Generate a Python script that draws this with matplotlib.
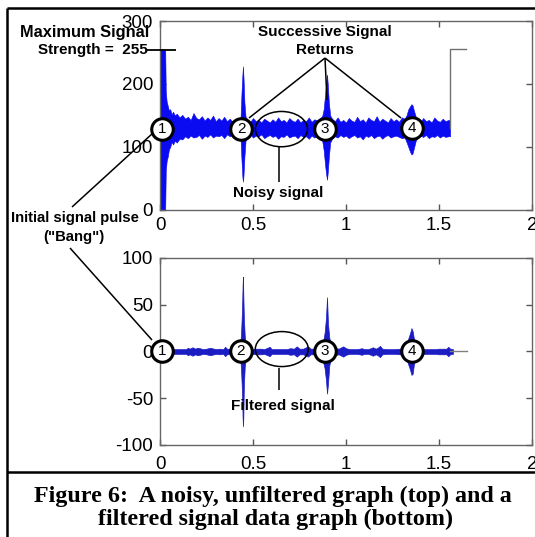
import matplotlib
matplotlib.use("Agg")
import matplotlib.pyplot as plt
from matplotlib.patches import Ellipse
from matplotlib.lines import Line2D

W, H = 535, 537

# ---- data ----
x_ticks = [0, 0.5, 1, 1.5, 2]
x_tick_labels = ["0", "0.5", "1", "1.5", "2"]
raw_yticks = [0, 100, 200, 300]
flt_yticks = [-100, -50, 0, 50, 100]

# raw (unfiltered) trace: upper / lower envelope of the noisy band
raw_t = [0.000, 0.028,
         0.031, 0.036, 0.042, 0.048, 0.055, 0.062, 0.070, 0.080, 0.090, 0.105,
         0.120, 0.135, 0.150, 0.165, 0.180, 0.195, 0.210, 0.225, 0.240, 0.255,
         0.270, 0.285, 0.300, 0.315, 0.330, 0.345, 0.360, 0.375, 0.390, 0.405,
         0.420, 0.432,
         0.438, 0.443, 0.446, 0.449, 0.454, 0.460,
         0.470, 0.485, 0.500, 0.515, 0.530, 0.545, 0.560, 0.575, 0.590, 0.605,
         0.620, 0.635, 0.650, 0.665, 0.680, 0.695, 0.710, 0.725, 0.740, 0.755,
         0.770, 0.785, 0.800, 0.815, 0.830, 0.845, 0.860, 0.872,
         0.880, 0.888, 0.894, 0.898, 0.902, 0.908, 0.915,
         0.925, 0.940, 0.955, 0.970, 0.985, 1.000, 1.015, 1.030, 1.045, 1.060,
         1.075, 1.090, 1.105, 1.120, 1.135, 1.150, 1.165, 1.180, 1.195, 1.210,
         1.225, 1.240, 1.255, 1.270, 1.285, 1.300, 1.315,
         1.325, 1.335, 1.345, 1.352, 1.358, 1.365, 1.375,
         1.385, 1.400, 1.415, 1.430, 1.445, 1.460, 1.475, 1.490, 1.505, 1.520,
         1.535, 1.550, 1.560]
raw_hi = [255, 255,
          188, 172, 165, 158, 160, 152, 156, 150, 153, 147,
          151, 145, 148, 143, 154, 146, 144, 149, 142, 147,
          143, 150, 141, 146, 142, 148, 141, 145, 140, 144,
          140, 139,
          185, 215, 228, 210, 170, 148,
          144, 140, 146, 141, 143, 139, 145, 142, 139, 144,
          140, 147, 141, 143, 139, 146, 142, 140, 145, 139,
          143, 141, 147, 140, 144, 142, 146, 149,
          160, 185, 205, 215, 200, 170, 150,
          145, 141, 147, 140, 143, 139, 146, 142, 140, 148,
          141, 144, 139, 147, 143, 141, 149, 140, 145, 142,
          139, 146, 141, 144, 140, 147, 145,
          150, 160, 165, 168, 166, 158, 148,
          144, 140, 146, 141, 143, 139, 147, 142, 140, 145,
          141, 143, 142]
raw_lo = [0, 0,
          62, 78, 85, 96, 100, 108, 104, 110, 107, 113,
          112, 117, 114, 118, 115, 116, 119, 113, 118, 116,
          120, 115, 118, 117, 119, 114, 120, 117, 119, 116,
          120, 120,
          80, 52, 45, 55, 85, 110,
          116, 120, 115, 118, 117, 120, 114, 117, 119, 116,
          118, 113, 117, 116, 120, 115, 117, 118, 114, 119,
          116, 117, 113, 118, 115, 117, 114, 110,
          95, 70, 55, 48, 60, 85, 107,
          113, 117, 115, 119, 116, 118, 114, 117, 119, 115,
          117, 112, 118, 116, 119, 114, 117, 118, 113, 117,
          119, 115, 117, 118, 116, 114, 115,
          108, 100, 92, 88, 90, 98, 110,
          115, 118, 116, 119, 114, 117, 116, 119, 115, 118,
          116, 117, 117]
raw_tail_t = [1.56, 1.56, 1.645]
raw_tail_v = [130, 255, 255]

# filtered trace: upper / lower envelope
flt_t = [0.020, 0.060, 0.100, 0.140, 0.150, 0.160, 0.175, 0.190, 0.200, 0.215,
         0.230, 0.250, 0.270, 0.290, 0.300, 0.320, 0.340, 0.350, 0.360, 0.375,
         0.395, 0.410, 0.425, 0.432,
         0.436, 0.441, 0.444, 0.446, 0.448, 0.451, 0.456, 0.462, 0.470,
         0.480, 0.500, 0.520, 0.545, 0.560, 0.590, 0.600, 0.640, 0.680, 0.700,
         0.720, 0.735, 0.750, 0.770, 0.795, 0.810, 0.840, 0.860, 0.872,
         0.878, 0.885, 0.892, 0.898, 0.903, 0.910, 0.918, 0.928,
         0.940, 0.960, 0.985, 1.000, 1.020, 1.060, 1.085, 1.100, 1.120, 1.145,
         1.160, 1.170, 1.183, 1.195, 1.220, 1.260, 1.290, 1.310, 1.325,
         1.335, 1.345, 1.352, 1.358, 1.365, 1.375,
         1.390, 1.420, 1.450, 1.480, 1.500, 1.540, 1.550, 1.560, 1.575]
flt_hi = [2.5, 2.5, 2.5, 2.5, 4, 3, 4.5, 3, 4, 3.5,
          2.5, 3, 4, 3, 2.5, 3, 2.5, 5, 3, 2.5,
          3, 2.5, 4, 8,
          20, 45, 70, 80, 60, 35, 15, 8, 4,
          3, 2.5, 3, 3, 2.5, 5, 2.5, 2.5, 2.5, 3.5,
          3, 5.5, 3, 3, 5.5, 3, 3, 4, 7,
          12, 20, 35, 58, 30, 15, 8, 5,
          4, 3, 5.5, 3.5, 2.5, 2.5, 3.5, 2.5, 2.5, 4.5,
          3, 4, 6, 3, 2.5, 2.5, 3, 4, 8,
          14, 20, 25, 22, 14, 6,
          2.5, 2.5, 2.5, 2.5, 3, 3, 5, 3, 2.5]
flt_lo = [-2.5, -2.5, -2.5, -2.5, -4, -3, -4.5, -3, -4, -3.5,
          -2.5, -3, -4, -3, -2.5, -3, -2.5, -5, -3, -2.5,
          -3, -2.5, -4, -8,
          -20, -45, -70, -80, -70, -35, -15, -8, -4,
          -3, -2.5, -3, -3, -2.5, -5, -2.5, -2.5, -2.5, -3.5,
          -3, -5.5, -3, -3, -5.5, -3, -3, -4, -7,
          -12, -18, -30, -45, -35, -15, -8, -5,
          -4, -3, -5.5, -3.5, -2.5, -2.5, -3.5, -2.5, -2.5, -4.5,
          -3, -4, -6, -3, -2.5, -2.5, -3, -4, -8,
          -14, -20, -25, -24, -14, -6,
          -2.5, -2.5, -2.5, -2.5, -3, -3, -5, -3, -2.5]
flt_tail_t = [1.56, 1.65]
flt_tail_v = [0, 0]

# numbered return markers (time, level)
return_t_raw = [0.011, 0.437, 0.887, 1.355]
return_v_raw = [129, 129, 129, 130]
return_t_flt = [0.011, 0.435, 0.887, 1.355]
return_v_flt = [0, 0, 0, 0]
return_labels = ["1", "2", "3", "4"]

caption1 = "Figure 6:  A noisy, unfiltered graph (top) and a"
caption2 = "filtered signal data graph (bottom)"

plt.rcParams["font.family"] = ["Liberation Sans", "DejaVu Sans"]
plt.rcParams["axes.unicode_minus"] = False

fig = plt.figure(figsize=(W / 100, H / 100), dpi=100)


def fig_line(xs, ys, lw=1.1, color="black"):
    fig.add_artist(Line2D([x / W for x in xs], [1 - y / H for y in ys],
                          transform=fig.transFigure, lw=lw, color=color,
                          solid_capstyle="butt", zorder=10))


def fig_text(x, y, s, ha="center", size=11, weight="bold", **kw):
    fig.text(x / W, 1 - y / H, s, ha=ha, va="center", fontsize=size,
             fontweight=weight, zorder=11, **kw)


ax1 = fig.add_axes([160 / W, 1 - 210 / H, 372 / W, 189 / H])
ax2 = fig.add_axes([160 / W, 1 - 445 / H, 372 / W, 187 / H])

for ax in (ax1, ax2):
    ax.set_xlim(0, 2)
    ax.set_xticks(x_ticks)
    ax.set_xticklabels(x_tick_labels)
    ax.tick_params(direction="in", top=True, right=True, length=4, width=1,
                   color="#555555", labelsize=13.5, pad=5)
    for s in ax.spines.values():
        s.set_color("#666666")
        s.set_linewidth(1.0)

ax1.set_ylim(0, 300)
ax1.set_yticks(raw_yticks)
ax2.set_ylim(-100, 100)
ax2.set_yticks(flt_yticks)
ax2.tick_params(axis="x", pad=8)

# signals
ax1.fill_between(raw_t, raw_lo, raw_hi, color="#0b0bf2", lw=0.4, zorder=2)
ax1.plot(raw_tail_t, raw_tail_v, color="#707070", lw=1.0, zorder=2)
ax2.fill_between(flt_t, flt_lo, flt_hi, color="#1c1cc4", lw=0.5, zorder=2)
ax2.plot(flt_tail_t, flt_tail_v, color="#808080", lw=1.0, zorder=2)

# numbered circles
for ax, ts, vs in ((ax1, return_t_raw, return_v_raw), (ax2, return_t_flt, return_v_flt)):
    ax.plot(ts, vs, "o", ms=15.5, mfc="white", mec="black", mew=2.2,
            clip_on=False, zorder=5, ls="none")
    for t, v, lab in zip(ts, vs, return_labels):
        ax.text(t, v, lab, ha="center", va="center", fontsize=11,
                zorder=6, clip_on=False)

# ellipses
ax1.add_patch(Ellipse((0.653, 128.4), 0.28, 56, fill=False, ec="black",
                      lw=1.1, zorder=6, clip_on=False))
ax2.add_patch(Ellipse((0.655, 2.6), 0.285, 37.4, fill=False, ec="black",
                      lw=1.1, zorder=6, clip_on=False))

# annotation lines
fig_line([147, 176], [50, 50], lw=1.3)
fig_line([325, 249], [58, 118])
fig_line([325, 327], [58, 100])
fig_line([325, 401], [58, 118])
fig_line([279, 279], [147, 182])
fig_line([279, 279], [368, 390])
fig_line([72, 153], [207, 133])
fig_line([70, 152], [248, 340])

# annotation texts
fig_text(149, 32, "Maximum Signal", ha="right", size=11.8)
fig_text(148, 50, "Strength =  255", ha="right")
fig_text(325, 32, "Successive Signal")
fig_text(325, 50, "Returns")
fig_text(278, 193, "Noisy signal")
fig_text(283, 406, "Filtered signal")
fig_text(75, 218, "Initial signal pulse", size=10.7)
fig_text(74, 237, '("Bang")', size=10.7)

# outer frame and caption
fig_line([7, W], [8, 8], lw=1.8)
fig_line([7, 7], [8, H], lw=1.8)
fig_line([7, W], [472, 472], lw=1.8)
fig_text(273, 496, caption1, size=17.3, family=["Liberation Serif"])
fig_text(276, 519, caption2, size=17.3, family=["Liberation Serif"])

fig.savefig("out.png", dpi=100)
